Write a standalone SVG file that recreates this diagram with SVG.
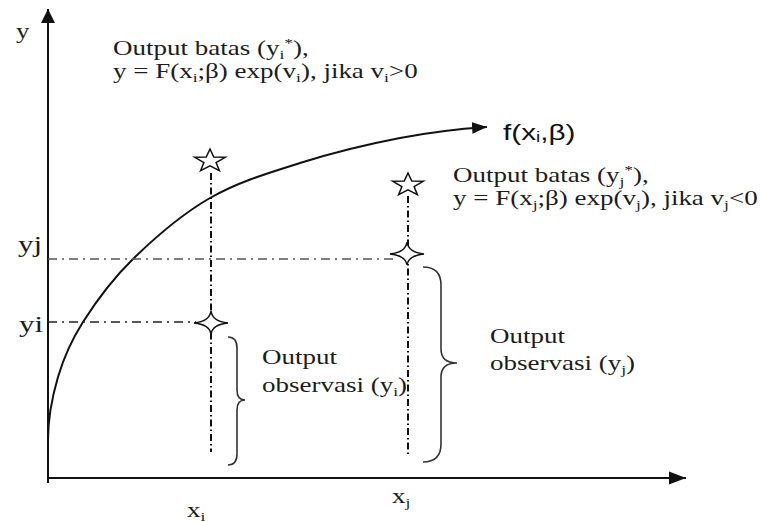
<svg xmlns="http://www.w3.org/2000/svg" width="760" height="522" viewBox="0 0 760 522">
  <style>
    .t { font-family: "Liberation Serif", "Times New Roman", serif; font-size: 20px; fill: #1c1c1c; }
    .big { font-size: 23px; }
    .sans { font-family: "Liberation Sans", Arial, sans-serif; font-size: 22px; fill: #111; }
    .sub { font-size: 13px; }
    .axis { stroke: #111; stroke-width: 2; fill: none; }
    .curve { stroke: #111; stroke-width: 2; fill: none; }
    .hguide { stroke-width: 1.6; fill: none; stroke-dasharray: 9 5 2 5; }
    .vguide { stroke: #111; stroke-width: 2; fill: none; stroke-dasharray: 7 3 1.5 3; }
    .star { fill: #fff; stroke: #111; stroke-width: 1.5; stroke-linejoin: miter; }
    .brace { fill: none; stroke: #333; stroke-width: 1.6; }
  </style>
  <defs>
    <marker id="arrUp" markerUnits="userSpaceOnUse" markerWidth="16" markerHeight="16" refX="7" refY="0" orient="0" viewBox="0 -1 14 16">
      <path d="M7,0 L14,14 L0,14 Z" fill="#111"/>
    </marker>
    <marker id="arrRight" markerUnits="userSpaceOnUse" markerWidth="18" markerHeight="14" refX="17" refY="6.5" orient="auto" viewBox="0 0 18 13">
      <path d="M0,0 L17,6.5 L0,13 Z" fill="#111"/>
    </marker>
    <marker id="arrCurve" markerUnits="userSpaceOnUse" markerWidth="16" markerHeight="12" refX="14" refY="5.5" orient="auto" viewBox="0 0 15 11">
      <path d="M0,0 L14,5.5 L0,11 Z" fill="#111"/>
    </marker>
    <path id="star5" d="M0,-12 L3.76,-3.88 L15.22,-3.71 L6.09,1.48 L9.4,9.71 L0,4.8 L-9.4,9.71 L-6.09,1.48 L-15.22,-3.71 L-3.76,-3.88 Z"/>
    <path id="star4" d="M0,-12 Q1.5,-1.5 17,0 Q1.5,1.5 0,11 Q-1.5,1.5 -17,0 Q-1.5,-1.5 0,-12 Z"/>
  </defs>

  <g id="connectors">
    <path id="y-axis" class="axis" d="M48,483 L48,9" marker-end="url(#arrUp)"/>
    <path id="x-axis" class="axis" d="M47,478 L686,478" marker-end="url(#arrRight)"/>
    <path id="frontier-curve" class="curve" d="M48,440 C48,420 52.2,396.7 58,377 C63.8,357.3 70.5,341.7 83,322 C95.5,302.3 111.8,279.7 133,259 C154.2,238.3 182.2,214 210,198 C237.8,182 268.3,173 300,163 C331.7,153 368.8,144 400,138 C431.2,132 465,128.5 487,127" marker-end="url(#arrCurve)"/>
    <path id="guide-yj" class="hguide" stroke="#555" d="M48,259 L398,259"/>
    <path id="guide-yi" class="hguide" stroke="#222" d="M48,322 L196,322"/>
    <path id="guide-xi" class="vguide" d="M211,173 L211,452"/>
    <path id="guide-xj" class="vguide" d="M408,196 L408,456"/>
  </g>

  <g id="star-yi-star"><use href="#star5" class="star" x="210" y="161"/></g>
  <g id="star-yj-star"><use href="#star5" class="star" x="408" y="185"/></g>
  <g id="obs-yj"><use href="#star4" class="star" x="407" y="254"/></g>
  <g id="obs-yi"><use href="#star4" class="star" x="211" y="323"/></g>

  <g id="brace-yi"><path class="brace" d="M228,337 Q237,337 237,348 L237,390 Q237,400 245,400 Q237,400 237,410 L237,454 Q237,465 228,465"/></g>
  <g id="brace-yj"><path class="brace" d="M423,267 Q441,267 441,285 L441,349 Q441,363 457,363 Q441,363 441,377 L441,444 Q441,462 423,462"/></g>

  <g id="label-y" transform="translate(16,38) scale(1.35,1)"><text class="t" x="0" y="0">y</text></g>
  <g id="label-yj" transform="translate(18,252) scale(1.35,1)"><text class="t big" x="0" y="0">yj</text></g>
  <g id="label-yi" transform="translate(19,332) scale(1.35,1)"><text class="t big" x="0" y="0">yi</text></g>
  <g id="label-xi" transform="translate(187,517) scale(1.35,1)"><text class="t" x="0" y="0">x<tspan class="sub" dy="4">i</tspan></text></g>
  <g id="label-xj" transform="translate(392,503) scale(1.35,1)"><text class="t" x="0" y="0">x<tspan class="sub" dy="4">j</tspan></text></g>

  <g id="label-f" transform="translate(503,140) scale(1.35,1)">
    <text class="sans" x="0" y="0">f(x<tspan font-size="14" dy="2">i</tspan><tspan dy="-2">,β)</tspan></text>
  </g>

  <g id="label-batas-i" transform="translate(113,55) scale(1.35,1)">
    <text class="t" x="0" y="0">Output batas (y<tspan class="sub" dy="4">i</tspan><tspan class="sub" dy="-12">*</tspan><tspan dy="8">),</tspan></text>
    <text class="t" x="0" y="23">y = F(x<tspan class="sub" dy="4">i</tspan><tspan dy="-4">;β) exp(v</tspan><tspan class="sub" dy="4">i</tspan><tspan dy="-4">), jika v</tspan><tspan class="sub" dy="4">i</tspan><tspan dy="-4">&gt;0</tspan></text>
  </g>

  <g id="label-batas-j" transform="translate(453,182) scale(1.35,1)">
    <text class="t" x="0" y="0">Output batas (y<tspan class="sub" dy="4">j</tspan><tspan class="sub" dy="-12">*</tspan><tspan dy="8">),</tspan></text>
    <text class="t" x="0" y="23">y = F(x<tspan class="sub" dy="4">j</tspan><tspan dy="-4">;β) exp(v</tspan><tspan class="sub" dy="4">j</tspan><tspan dy="-4">), jika v</tspan><tspan class="sub" dy="4">j</tspan><tspan dy="-4">&lt;0</tspan></text>
  </g>

  <g id="label-obs-i" transform="translate(262,364) scale(1.35,1)">
    <text class="t" x="0" y="0">Output</text>
    <text class="t" x="0" y="28">observasi (y<tspan class="sub" dy="4">i</tspan><tspan dy="-4">)</tspan></text>
  </g>

  <g id="label-obs-j" transform="translate(490,343) scale(1.35,1)">
    <text class="t" x="0" y="0">Output</text>
    <text class="t" x="0" y="27">observasi (y<tspan class="sub" dy="4">j</tspan><tspan dy="-4">)</tspan></text>
  </g>
</svg>
